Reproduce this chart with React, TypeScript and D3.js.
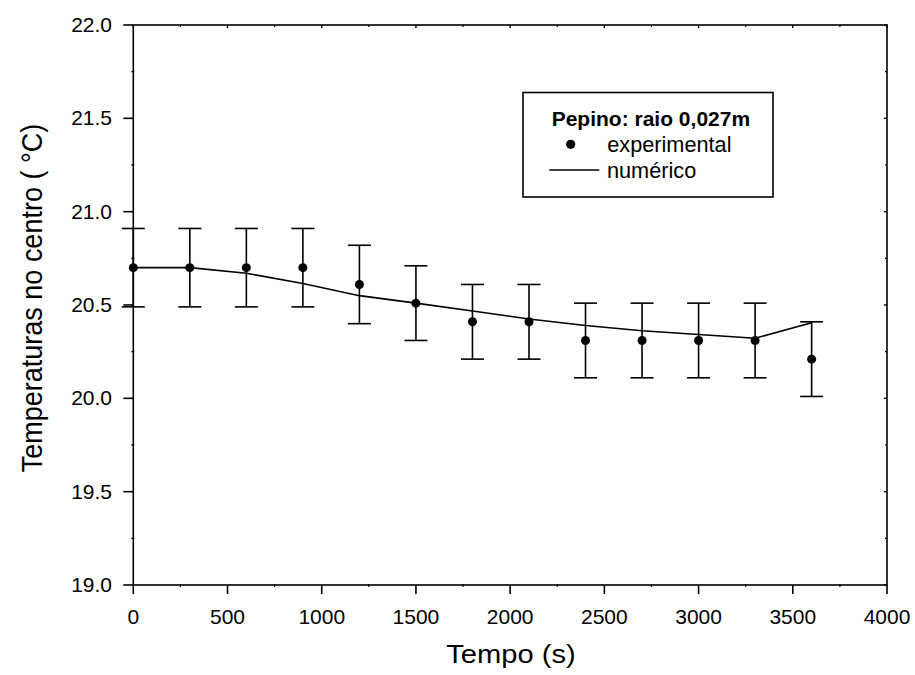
import React from "react";
import * as d3 from "d3";

const times = [0, 300, 600, 900, 1200, 1500, 1800, 2100, 2400, 2700, 3000, 3300, 3600];
const experimental = [20.7, 20.7, 20.7, 20.7, 20.61, 20.51, 20.41, 20.41, 20.31, 20.31, 20.31, 20.31, 20.21];
const errors = [0.21, 0.21, 0.21, 0.21, 0.21, 0.2, 0.2, 0.2, 0.2, 0.2, 0.2, 0.2, 0.2];
const numerico = [20.7, 20.7, 20.67, 20.615, 20.55, 20.51, 20.468, 20.425, 20.39, 20.362, 20.342, 20.322, 20.405];
const xTicks = [0, 500, 1000, 1500, 2000, 2500, 3000, 3500, 4000];
const yTicks = [19.0, 19.5, 20.0, 20.5, 21.0, 21.5, 22.0];
const xMinor = [250, 750, 1250, 1750, 2250, 2750, 3250, 3750];
const yMinor = [19.25, 19.75, 20.25, 20.75, 21.25, 21.75];

const W = 915, H = 675;
const L = 133.3, R = 887, T = 25, B = 585;
const font = "Liberation Sans, Arial, sans-serif";

export default function App() {
  const x = d3.scaleLinear().domain([0, 4000]).range([L, R]);
  const y = d3.scaleLinear().domain([19, 22]).range([B, T]);
  const line = d3.line<number>().x((_, i) => x(times[i])).y((d) => y(d));
  const cap = 11.5;
  const tf = 20;
  return (
    <svg width={W} height={H} style={{ position: "absolute", left: 0, top: 0 }}>
      <rect x={0} y={0} width={W} height={H} fill="#fff" />
      <rect x={L} y={T} width={R - L} height={B - T} fill="none" stroke="#000" strokeWidth={1.6} />
      {xTicks.map((t) => (
        <g key={"xt" + t}>
          <line x1={x(t)} x2={x(t)} y1={B} y2={B + 9} stroke="#000" strokeWidth={1.6} />
          <line x1={x(t)} x2={x(t)} y1={T} y2={T + 3} stroke="#000" strokeWidth={1.4} />
          <g transform={`translate(${x(t)},${624}) scale(1.05,1)`}>
            <text x={0} y={0} textAnchor="middle" fontFamily={font} fontSize={tf}>{t}</text>
          </g>
        </g>
      ))}
      {xMinor.map((t) => (
        <g key={"xm" + t}>
          <line x1={x(t)} x2={x(t)} y1={B - 1} y2={B + 2} stroke="#000" strokeWidth={1.2} />
          <line x1={x(t)} x2={x(t)} y1={T} y2={T + 2} stroke="#000" strokeWidth={1.2} />
        </g>
      ))}
      {yTicks.map((t) => (
        <g key={"yt" + t}>
          <line x1={L - 10} x2={L} y1={y(t)} y2={y(t)} stroke="#000" strokeWidth={1.6} />
          <line x1={R - 3} x2={R} y1={y(t)} y2={y(t)} stroke="#000" strokeWidth={1.4} />
          <g transform={`translate(${L - 21.3},${y(t) + 7}) scale(1.05,1)`}>
            <text x={0} y={0} textAnchor="end" fontFamily={font} fontSize={tf}>{t.toFixed(1)}</text>
          </g>
        </g>
      ))}
      {yMinor.map((t) => (
        <g key={"ym" + t}>
          <line x1={L - 2} x2={L + 1} y1={y(t)} y2={y(t)} stroke="#000" strokeWidth={1.2} />
          <line x1={R - 2} x2={R} y1={y(t)} y2={y(t)} stroke="#000" strokeWidth={1.2} />
        </g>
      ))}
      {experimental.map((v, i) => (
        <g key={"eb" + i} stroke="#000" strokeWidth={1.6}>
          <line x1={x(times[i])} x2={x(times[i])} y1={y(v + errors[i])} y2={y(v - errors[i])} />
          <line x1={x(times[i]) - cap} x2={x(times[i]) + cap} y1={y(v + errors[i])} y2={y(v + errors[i])} />
          <line x1={x(times[i]) - cap} x2={x(times[i]) + cap} y1={y(v - errors[i])} y2={y(v - errors[i])} />
        </g>
      ))}
      <path d={line(numerico) || ""} fill="none" stroke="#000" strokeWidth={1.6} />
      {experimental.map((v, i) => (
        <circle key={"pt" + i} cx={x(times[i])} cy={y(v)} r={4.5} fill="#000" />
      ))}
      <rect x={523} y={92.5} width={250} height={104.5} fill="#fff" stroke="#000" strokeWidth={1.6} />
      <text x={551.7} y={126} fontFamily={font} fontSize={21} fontWeight="bold">Pepino: raio 0,027m</text>
      <circle cx={570.7} cy={144.3} r={4.6} fill="#000" />
      <text x={607.3} y={151.7} fontFamily={font} fontSize={21.7}>experimental</text>
      <line x1={549.3} x2={599.3} y1={170} y2={170} stroke="#000" strokeWidth={1.6} />
      <text x={607} y={178.3} fontFamily={font} fontSize={21.7}>numérico</text>
      <g transform={`translate(511,663.3) scale(1.12,1)`}>
        <text x={0} y={0} textAnchor="middle" fontFamily={font} fontSize={26}>Tempo (s)</text>
      </g>
      <g transform={`translate(42, 298) rotate(-90) scale(1,1.12)`}>
        <text x={0} y={0} textAnchor="middle" fontFamily={font} fontSize={27}>Temperaturas no centro ( °C)</text>
      </g>
    </svg>
  );
}
